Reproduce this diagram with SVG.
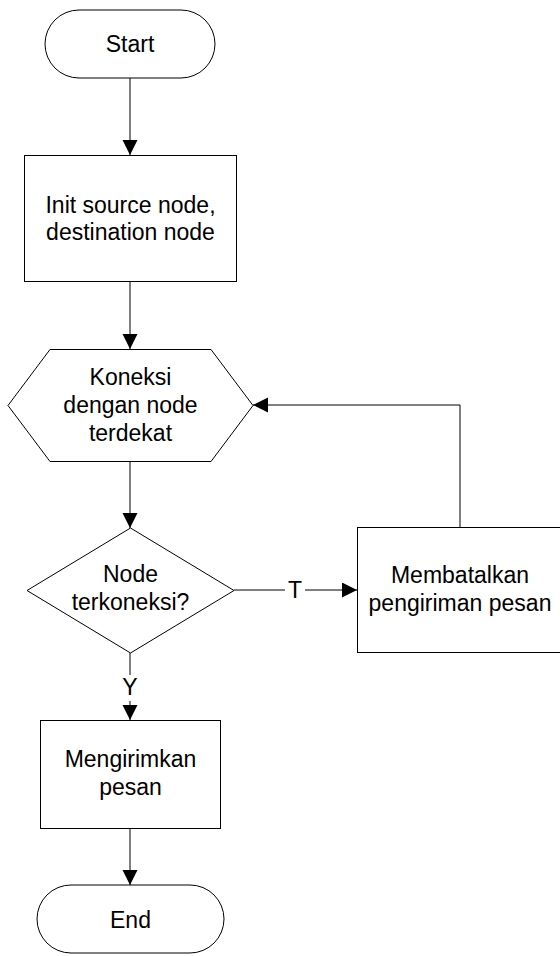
<svg xmlns="http://www.w3.org/2000/svg" width="560" height="956" viewBox="0 0 560 956">
<style>
.shape{fill:#fff;stroke:#000;stroke-width:1}
.line{fill:none;stroke:#000;stroke-width:1}
.t{font-family:"Liberation Sans",Arial,sans-serif;font-size:23px;fill:#000;text-anchor:middle}
.lblbg{fill:#fff;stroke:none}
</style>
<defs>
<marker id="arr" markerUnits="userSpaceOnUse" markerWidth="16" markerHeight="16" refX="15" refY="7.5" orient="auto">
<path d="M0,0 L15,7.5 L0,15 z" fill="#000"/>
</marker>
</defs>
<rect width="560" height="956" fill="#fff"/>
<g id="connectors">
<line class="line" x1="130" y1="78" x2="130" y2="155" marker-end="url(#arr)"/>
<line class="line" x1="130" y1="282" x2="130" y2="349" marker-end="url(#arr)"/>
<line class="line" x1="130" y1="462" x2="130" y2="528" marker-end="url(#arr)"/>
<line class="line" x1="234" y1="590" x2="357" y2="590" marker-end="url(#arr)"/>
<polyline class="line" points="460,527 460,405 253,405" marker-end="url(#arr)"/>
<line class="line" x1="130" y1="653" x2="130" y2="720" marker-end="url(#arr)"/>
<line class="line" x1="130" y1="829" x2="130" y2="885" marker-end="url(#arr)"/>
<g id="label-T">
<rect class="lblbg" x="285" y="578" width="20" height="24"/>
<text class="t" x="295" y="598">T</text>
</g>
<g id="label-Y">
<rect class="lblbg" x="119" y="675" width="22" height="26"/>
<text class="t" x="130" y="695">Y</text>
</g>
</g>
<g id="start">
<rect class="shape" x="45" y="10" width="170" height="68" rx="34" ry="34"/>
<text class="t" x="130" y="52">Start</text>
</g>
<g id="init">
<rect class="shape" x="24.5" y="155.5" width="212" height="126"/>
<text class="t" x="130.5" y="213">Init source node,</text>
<text class="t" x="130.5" y="240">destination node</text>
</g>
<g id="koneksi">
<polygon class="shape" points="8,405.5 50,349.5 211,349.5 253,405.5 211,461.5 50,461.5"/>
<text class="t" x="130.5" y="385">Koneksi</text>
<text class="t" x="130.5" y="413">dengan node</text>
<text class="t" x="130.5" y="441">terdekat</text>
</g>
<g id="decision">
<polygon class="shape" points="130.5,528 234,590.5 130.5,653 27,590.5"/>
<text class="t" x="130.5" y="582">Node</text>
<text class="t" x="130.5" y="610">terkoneksi?</text>
</g>
<g id="batal">
<rect class="shape" x="357.5" y="527.5" width="206" height="125"/>
<text class="t" x="460" y="583">Membatalkan</text>
<text class="t" x="460" y="611">pengiriman pesan</text>
</g>
<g id="kirim">
<rect class="shape" x="40.5" y="720.5" width="180" height="108"/>
<text class="t" x="130.5" y="767">Mengirimkan</text>
<text class="t" x="130.5" y="795">pesan</text>
</g>
<g id="end">
<rect class="shape" x="37" y="885" width="187" height="68" rx="34" ry="34"/>
<text class="t" x="130.5" y="928">End</text>
</g>
</svg>
